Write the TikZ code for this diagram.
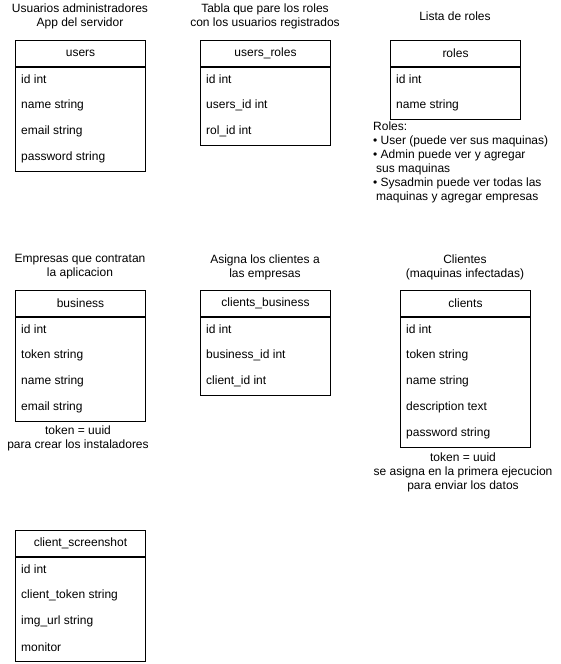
\documentclass[tikz,border=0pt]{standalone}
\usepackage{fontspec}
\setmainfont{Liberation Sans}
\usepackage{tikz}
\usetikzlibrary{shapes,arrows,positioning}

\begin{document}
\begin{tikzpicture}[x=1pt, y=-1pt,
		every node/.style={font=\fontsize{12}{14}\selectfont, inner sep=0pt},
		tbl/.style={draw, line width=1pt, minimum width=130pt, minimum height=26pt, anchor=north west},
		body/.style={draw, line width=1pt, minimum width=130pt, below=0pt of #1},
		fld/.style={anchor=west},
		note/.style={align=center}]
		\useasboundingbox (0,0) rectangle (561,664);
		% titulos
		\node[note] (users-title)			at (80,16)		{Usuarios administradores\\App del servidor};
		\node[note] (users_roles-title)	at (265,16)		{Tabla que pare los roles\\con los usuarios registrados};
		\node[note] (roles-title)			at (455,16)		{Lista de roles};
		\node[note] (business-title)		at (80,267)		{Empresas que contratan\\la aplicacion};
		\node[note] (clients_business-title) at (265,267) {Asigna los clientes a\\las empresas};
		\node[note] (clients-title)		at (465,267)	{Clientes\\(maquinas infectadas)};
		% users
		\node[tbl] (users) at (15,40) {users};
		\node[body=users, minimum height=104pt] (users-body) {};
		\foreach \f [count=\i] in {id int, name string, email string, password string}
			\node[fld] (users-\i) at (21,{53+26*\i}) {\f};
		% users_roles
		\node[tbl] (users_roles) at (200,40) {users\_roles};
		\node[body=users_roles, minimum height=78pt] (users_roles-body) {};
		\foreach \f [count=\i] in {id int, users\_id int, rol\_id int}
			\node[fld] (users_roles-\i) at (206,{53+26*\i}) {\f};
		% roles
		\node[tbl] (roles) at (390,40) {roles};
		\node[body=roles, minimum height=52pt] (roles-body) {};
		\foreach \f [count=\i] in {id int, name string}
			\node[fld] (roles-\i) at (396,{53+26*\i}) {\f};
		\node[align=left, anchor=north west] (roles-note) at (373,122)
			{Roles:\\
			 • User (puede ver sus maquinas)\\
			 • Admin puede ver y agregar\\
			 \hspace*{3pt}sus maquinas\\
			 • Sysadmin puede ver todas las\\
			 \hspace*{3pt}maquinas y agregar empresas};
		% business
		\node[tbl] (business) at (15,290) {business};
		\node[body=business, minimum height=104pt] (business-body) {};
		\foreach \f [count=\i] in {id int, token string, name string, email string}
			\node[fld] (business-\i) at (21,{303+26*\i}) {\f};
		\node[note] (business-note) at (78,438.5) {token = uuid\\para crear los instaladores};
		% clients_business
		\node[tbl] (clients_business) at (200,290) {clients\_business};
		\node[body=clients_business, minimum height=78pt] (clients_business-body) {};
		\foreach \f [count=\i] in {id int, business\_id int, client\_id int}
			\node[fld] (clients_business-\i) at (206,{303+26*\i}) {\f};
		% clients
		\node[tbl] (clients) at (400,290) {clients};
		\node[body=clients, minimum height=130pt] (clients-body) {};
		\foreach \f [count=\i] in {id int, token string, name string, description text, password string}
			\node[fld] (clients-\i) at (406,{303+26*\i}) {\f};
		\node[note] (clients-note) at (463,472.5) {token = uuid\\se asigna en la primera ejecucion\\para enviar los datos};
		% client_screenshot
		\node[tbl] (client_screenshot) at (15,530) {client\_screenshot};
		\node[body=client_screenshot, minimum height=104pt] (client_screenshot-body) {};
		\foreach \f [count=\i] in {id int, client\_token string, img\_url string, monitor}
			\node[fld] (client_screenshot-\i) at (21,{543+26*\i}) {\f};
\end{tikzpicture}
\end{document}
